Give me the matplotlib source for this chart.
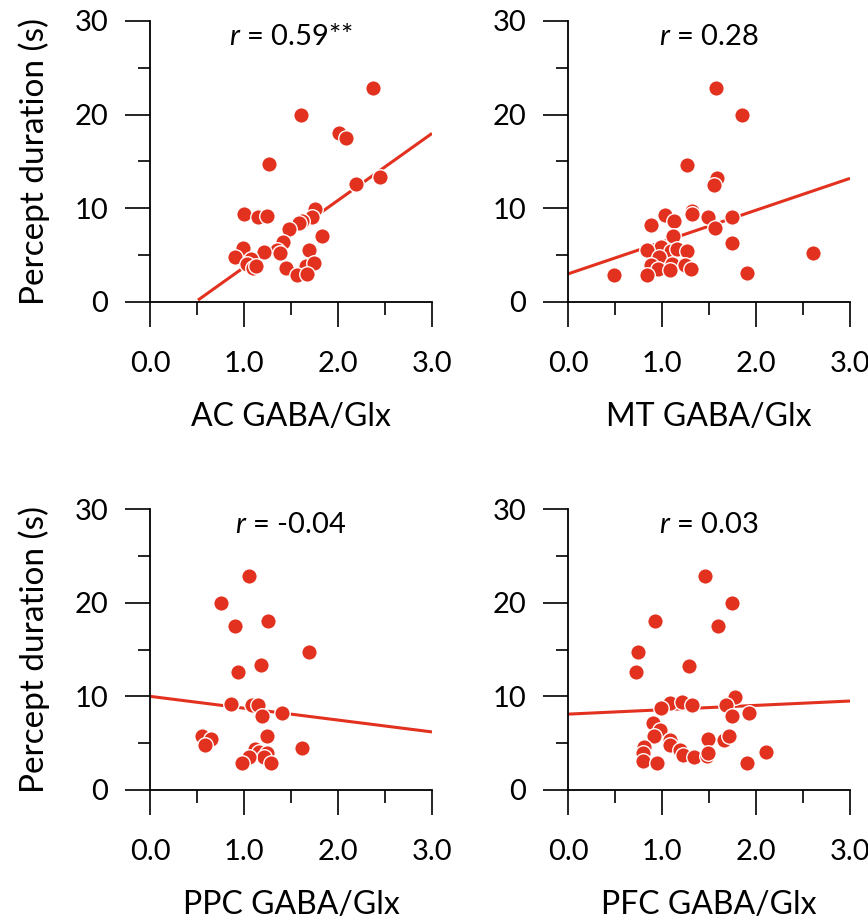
import matplotlib
matplotlib.use("Agg")
import matplotlib.pyplot as plt
from matplotlib.ticker import MultipleLocator

plt.rcParams['font.family'] = ['Lato', 'DejaVu Sans']
plt.rcParams['mathtext.fontset'] = 'custom'
plt.rcParams['mathtext.rm'] = 'Lato'
plt.rcParams['mathtext.it'] = 'Lato:italic'

# values
ac_x = [2.37, 1.61, 2.01, 2.09, 1.27, 2.45, 2.19, 1.00, 1.15, 1.24, 1.76, 1.72, 1.62, 1.59, 1.48, 1.83,
        1.42, 1.35, 1.38, 1.21, 0.99, 1.69, 0.90, 1.07, 1.03, 1.10, 1.13, 1.45, 1.66, 1.75, 1.56, 1.67]
ac_y = [22.9, 20.0, 18.0, 17.5, 14.7, 13.3, 12.6, 9.4, 9.1, 9.2, 9.9, 9.1, 8.7, 8.4, 7.8, 7.0,
        6.4, 5.5, 5.2, 5.3, 5.8, 5.5, 4.8, 4.6, 4.1, 3.6, 3.8, 3.6, 3.8, 4.2, 2.9, 3.0]

mt_x = [1.57, 1.85, 1.27, 1.58, 1.55, 1.32, 1.32, 1.03, 1.13, 1.49, 1.74, 0.88, 1.56, 1.12, 1.74, 0.99,
        0.84, 1.10, 1.16, 1.27, 0.97, 2.61, 1.11, 1.24, 0.88, 0.96, 1.08, 1.31, 0.49, 0.84, 1.90]
mt_y = [22.9, 20.0, 14.6, 13.2, 12.5, 9.75, 9.4, 9.25, 8.7, 9.1, 9.1, 8.2, 7.9, 7.0, 6.3, 5.9,
        5.5, 5.4, 5.7, 5.4, 4.8, 5.2, 4.1, 4.0, 4.0, 3.5, 3.4, 3.5, 2.9, 2.9, 3.1]

ppc_x = [1.05, 0.76, 1.26, 0.90, 1.69, 1.18, 0.94, 0.86, 1.09, 1.15, 1.40, 1.19,
         0.55, 0.65, 0.58, 1.24, 1.62, 1.12, 1.16, 1.24, 1.21, 1.05, 0.98, 1.29]
ppc_y = [22.9, 20.0, 18.0, 17.5, 14.7, 13.3, 12.6, 9.2, 9.1, 9.1, 8.25, 7.9,
         5.8, 5.4, 4.8, 5.8, 4.5, 4.4, 4.1, 4.0, 3.5, 3.5, 2.9, 2.9]

pfc_x = [1.46, 1.74, 0.93, 1.60, 0.74, 0.72, 1.29, 1.78, 1.08, 1.21, 1.32, 0.99, 1.68, 1.93, 1.74, 0.90, 0.98,
         0.91, 1.08, 1.49, 1.66, 1.71, 0.81, 1.09, 0.80, 1.19, 2.11, 0.80, 1.22, 1.34, 1.48, 1.49, 0.95, 1.90]
pfc_y = [22.9, 20.0, 18.0, 17.5, 14.7, 12.6, 13.25, 9.9, 9.3, 9.4, 9.1, 8.75, 9.1, 8.25, 7.9, 7.1, 6.4,
         5.75, 5.3, 5.4, 5.3, 5.8, 4.6, 4.8, 3.9, 4.3, 4.1, 3.1, 3.75, 3.5, 3.6, 4.0, 2.9, 2.9]

# regression line end points
ac_fit_x, ac_fit_y = [0.51, 3.0], [0.2, 18.0]
mt_fit_x, mt_fit_y = [0.0, 3.0], [3.0, 13.2]
ppc_fit_x, ppc_fit_y = [0.0, 3.0], [10.0, 6.2]
pfc_fit_x, pfc_fit_y = [0.0, 3.0], [8.1, 9.5]

region_labels = ['AC GABA/Glx', 'MT GABA/Glx', 'PPC GABA/Glx', 'PFC GABA/Glx']
r_labels = ['$r$ = 0.59**', '$r$ = 0.28', '$r$ = -0.04', '$r$ = 0.03']
x_ticks = [0.0, 1.0, 2.0, 3.0]
x_tick_labels = ['0.0', '1.0', '2.0', '3.0']
y_ticks = [0, 10, 20, 30]

red = '#E2311F'

fig = plt.figure(figsize=(8.68, 9.19), dpi=100)
W, H = 868, 919
# axes boxes in pixels: left, bottom(y=0 pixel), right, top(y=30 pixel)
boxes = [(150, 302, 432, 21), (568, 302, 850, 21), (150, 790, 432, 509), (568, 790, 850, 509)]

data = [(ac_x, ac_y, ac_fit_x, ac_fit_y), (mt_x, mt_y, mt_fit_x, mt_fit_y),
        (ppc_x, ppc_y, ppc_fit_x, ppc_fit_y), (pfc_x, pfc_y, pfc_fit_x, pfc_fit_y)]

for i, (box, (xs, ys, fx, fy)) in enumerate(zip(boxes, data)):
    l, b, r, t = box
    ax = fig.add_axes([l / W, 1 - b / H, (r - l) / W, (b - t) / H])
    ax.plot(fx, fy, color=red, lw=2.2, zorder=2, solid_capstyle='butt')
    ax.scatter(xs, ys, s=125, color=red, edgecolors='white', linewidths=1.0, zorder=3, clip_on=False)
    ax.set_xlim(0, 3)
    ax.set_ylim(0, 30)
    for s in ['top', 'right']:
        ax.spines[s].set_visible(False)
    for s in ['left', 'bottom']:
        ax.spines[s].set_linewidth(1.3)
    ax.set_xticks(x_ticks)
    ax.set_xticklabels(x_tick_labels)
    ax.set_yticks(y_ticks)
    ax.xaxis.set_minor_locator(MultipleLocator(0.5))
    ax.yaxis.set_minor_locator(MultipleLocator(5))
    ax.tick_params(which='major', length=18, width=1.2, labelsize=21, color='black')
    ax.tick_params(axis='x', which='major', pad=17)
    ax.tick_params(axis='y', which='major', pad=12)
    ax.tick_params(which='minor', length=9, width=1.2, color='black')
    ax.set_xlabel(region_labels[i], fontsize=23, labelpad=18)
    if i % 2 == 0:
        ax.set_ylabel('Percept duration (s)', fontsize=24, labelpad=18)
    ax.text(1.5, 28.3, r_labels[i], ha='center', va='center', fontsize=21)

fig.savefig('out.png', dpi=100)
